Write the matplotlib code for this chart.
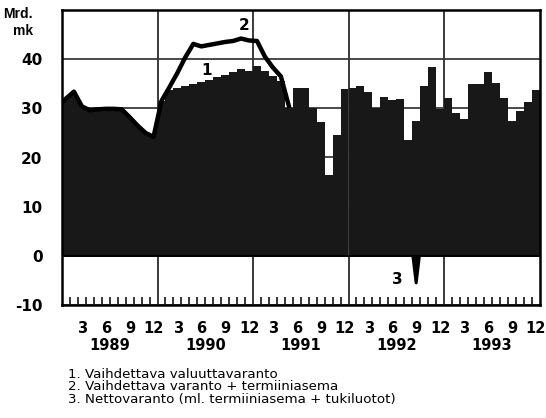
import matplotlib
matplotlib.use("Agg")
import matplotlib.pyplot as plt
import matplotlib.transforms as mtransforms
import numpy as np

plt.rcParams['font.family'] = ['DejaVu Sans']

# ---- data (Mrd. mk), monthly Jan 1989 .. Dec 1993 ----
years = ["1989", "1990", "1991", "1992", "1993"]
month_labels = ["3", "6", "9", "12"]

# 1. Vaihdettava valuuttavaranto (bars, 1990-1993)
reserve_1990_1993 = [
    31.5, 33.7, 34.2, 34.6, 35.0, 35.3, 35.7, 36.3, 36.8, 37.3, 37.9, 37.6,   # 1990
    38.6, 37.5, 36.6, 35.5, 30.0, 34.1, 34.1, 30.1, 27.2, 16.5, 24.5, 34.0,   # 1991
    34.2, 34.6, 33.4, 30.0, 32.4, 31.6, 31.8, 23.5, 27.4, 34.6, 38.5, 29.9,   # 1992
    32.2, 29.0, 27.8, 34.9, 34.9, 37.3, 35.2, 32.2, 27.4, 29.4, 31.2, 33.7,   # 1993
]

# 2. Vaihdettava varanto + termiiniasema (line, Jan 1989 .. May 1991)
reserve_plus_forward = [
    32.0, 33.4, 30.4, 29.6, 29.8, 29.9, 29.9, 29.8, 28.2, 26.5, 25.0, 24.2,   # 1989
    31.5, 34.3, 37.2, 40.4, 43.1, 42.6, 42.9, 43.2, 43.5, 43.7, 44.2, 43.8,   # 1990
    43.7, 40.5, 38.3, 36.5, 30.5,                                             # 1991
]

# 3. Nettovaranto (visible only around Sep 1992)
net_months = [44, 45, 46]
net_values = [8.0, -5.5, 8.0]

bar_color = "#181818"
grid_color = "#3a3a3a"

fig = plt.figure(figsize=(5.46, 4.18), dpi=100)
ax = fig.add_axes([62/546, 1 - 305/418, 477.5/546, 295/418])

ax.set_xlim(0, 60)
ax.set_ylim(-10, 50)

# horizontal grid
ax.set_yticks([-10, 0, 10, 20, 30, 40, 50])
ax.set_yticklabels(["-10", "0", "10", "20", "30", "40", ""])
ax.yaxis.grid(True, color=grid_color, lw=1.3, zorder=0)
ax.set_axisbelow(True)
# year boundaries
for k in range(1, len(years)):
    ax.axvline(12 * k, color=grid_color, lw=1.4, zorder=0.5)

# series 3 (below bars, only the negative dip shows)
xn = np.array(net_months) - 0.5
yn = np.array(net_values)
ax.fill_between(xn, yn, 0, where=yn < 0, interpolate=True, color="black", lw=0, zorder=1.5)
ax.plot(xn, yn, color="black", lw=2.2, zorder=1.5)

# bars 1990-1993
x_bars = np.arange(13, 61) - 0.5
ax.bar(x_bars, reserve_1990_1993, width=1.0, color=bar_color, linewidth=0, zorder=2)

# 1989 area under line 2 (series 1 coincides with series 2)
x2 = np.arange(1, len(reserve_plus_forward) + 1) - 0.5
y2 = np.array(reserve_plus_forward)
xa = np.concatenate([[ax.get_xlim()[0]], x2[:13]])
ya = np.concatenate([[y2[0] - 0.8], y2[:13]])
ax.fill_between(xa, 0, ya, color=bar_color, linewidth=0, zorder=2)

# line 2
xl = np.concatenate([[ax.get_xlim()[0]], x2])
yl = np.concatenate([[y2[0] - 0.8], y2])
ax.plot(xl, yl, color="black", lw=3.2, solid_joinstyle="round", zorder=3)

# zero line
ax.axhline(0, color="black", lw=1.4, zorder=2.5)

# series labels
lab_kw = dict(fontsize=11, fontweight="bold", ha="center", va="center", zorder=4)
ax.text(18.2, 37.6, "1", **lab_kw)
ax.text(22.9, 46.9, "2", **lab_kw)
ax.text(42.1, -4.8, "3", **lab_kw)

# ticks: small month ticks pointing up from bottom
minor = [m for m in range(1, 60) if m % 12 != 0]
ax.set_xticks(minor)
ax.set_xticklabels([])
ax.tick_params(axis="x", direction="in", length=5.5, width=1.1, color="black", bottom=True, top=False)
ax.tick_params(axis="y", length=0, pad=14, labelsize=11)
for lab in ax.get_yticklabels():
    lab.set_fontweight("bold")

trans = mtransforms.blended_transform_factory(ax.transData, ax.transAxes)
for k, yr in enumerate(years):
    for j, ml in enumerate(month_labels):
        ax.text(12 * k + 3 * (j + 1) - 0.45, -0.078, ml, transform=trans, ha="center", va="center",
                fontsize=10.5, fontweight="bold")
    ax.text(12 * k + 6, -0.136, yr, transform=trans, ha="center", va="center",
            fontsize=10.5, fontweight="bold")

for sp in ax.spines.values():
    sp.set_linewidth(1.8)
    sp.set_color("black")
    sp.set_zorder(5)

unit_kw = dict(ha="right", va="baseline", fontsize=10, fontweight="bold",
               family=["Liberation Sans", "DejaVu Sans"])
fig.text(33/546, 1 - 18/418, "Mrd.", **unit_kw)
fig.text(33/546, 1 - 35/418, "mk", **unit_kw)

legend_lines = [
    "1. Vaihdettava valuuttavaranto",
    "2. Vaihdettava varanto + termiiniasema",
    "3. Nettovaranto (ml. termiiniasema + tukiluotot)",
]
fig.text(68/546, 1 - 387/418, "\n".join(legend_lines), ha="left", va="center",
         fontsize=9.6, linespacing=0.92)

fig.savefig("out.png", dpi=100)
